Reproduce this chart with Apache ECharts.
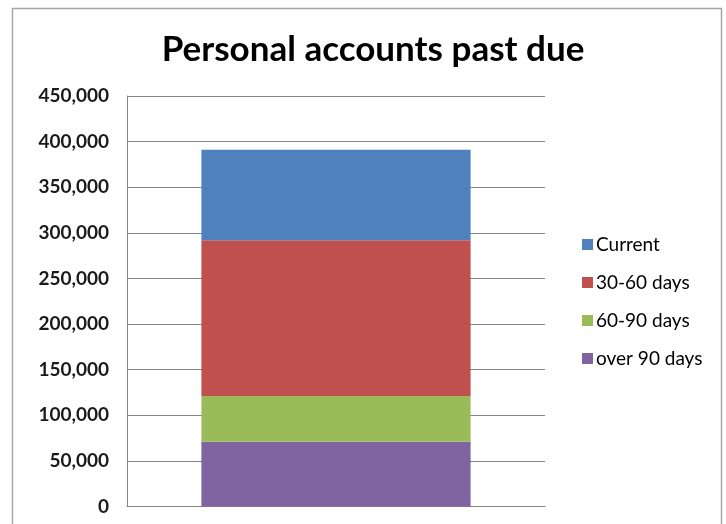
<!DOCTYPE html>
<html>
<head>
<meta charset="utf-8">
<script src="https://cdn.jsdelivr.net/npm/echarts@6/dist/echarts.min.js"></script>
<style>
  html, body { margin: 0; padding: 0; background: #ffffff; }
  #chart { width: 726px; height: 524px; }
</style>
</head>
<body>
<div id="chart"></div>
<script>
// Account balances by delinquency bucket
const categories = [''];
const seriesNames = ['Current', '30-60 days', '60-90 days', 'over 90 days'];
const currentVals = [99000];
const days30to60 = [171000];
const days60to90 = [50000];
const over90Days = [71000];
const yTicks = [0, 50000, 100000, 150000, 200000, 250000, 300000, 350000, 400000, 450000];

const colors = {
  'Current': '#4f81bd',
  '30-60 days': '#c0504d',
  '60-90 days': '#9bbb59',
  'over 90 days': '#8064a2'
};

const valuesByName = {
  'Current': currentVals,
  '30-60 days': days30to60,
  '60-90 days': days60to90,
  'over 90 days': over90Days
};

// stack bottom-up: over 90, 60-90, 30-60, current
const stackOrder = ['over 90 days', '60-90 days', '30-60 days', 'Current'];

const font = 'Lato, "Open Sans", sans-serif';

const chart = echarts.init(document.getElementById('chart'), null, { renderer: 'canvas' });

chart.setOption({
  animation: false,
  backgroundColor: '#ffffff',
  title: {
    text: 'Personal accounts past due',
    left: 368,
    top: 27,
    textAlign: 'center',
    textStyle: { fontFamily: font, fontSize: 35, fontWeight: 'bold', color: '#000000' }
  },
  graphic: [{
    type: 'rect',
    shape: { x: 12.5, y: 8.5, width: 709, height: 530 },
    style: { fill: 'none', stroke: '#a6a6a6', lineWidth: 1.5 },
    silent: true
  }],
  legend: {
    data: seriesNames,
    orient: 'vertical',
    left: 577,
    top: 230,
    itemGap: 19,
    itemWidth: 11,
    itemHeight: 11,
    icon: 'rect',
    selectedMode: false,
    textStyle: { fontFamily: font, fontSize: 19, color: '#000000', padding: [0, 0, 0, -2] }
  },
  grid: { left: 127, top: 96, width: 418, height: 410.5, containLabel: false },
  xAxis: {
    type: 'category',
    data: categories,
    axisLine: { show: true, lineStyle: { color: '#868686', width: 1 } },
    axisTick: { show: false },
    axisLabel: { show: false }
  },
  yAxis: {
    type: 'value',
    min: yTicks[0],
    max: yTicks[yTicks.length - 1],
    interval: yTicks[1] - yTicks[0],
    axisLine: { show: true, lineStyle: { color: '#868686', width: 1 } },
    axisTick: { show: false },
    splitLine: { show: true, lineStyle: { color: '#868686', width: 1 } },
    axisLabel: {
      margin: 18,
      fontFamily: font,
      fontSize: 19,
      fontWeight: 'bold',
      color: '#1a1a1a',
      formatter: v => v.toLocaleString('en-US')
    }
  },
  series: stackOrder.map(name => ({
    name: name,
    type: 'bar',
    stack: 'total',
    barWidth: '64.4%',
    data: valuesByName[name],
    itemStyle: { color: colors[name] }
  }))
});
</script>
</body>
</html>
